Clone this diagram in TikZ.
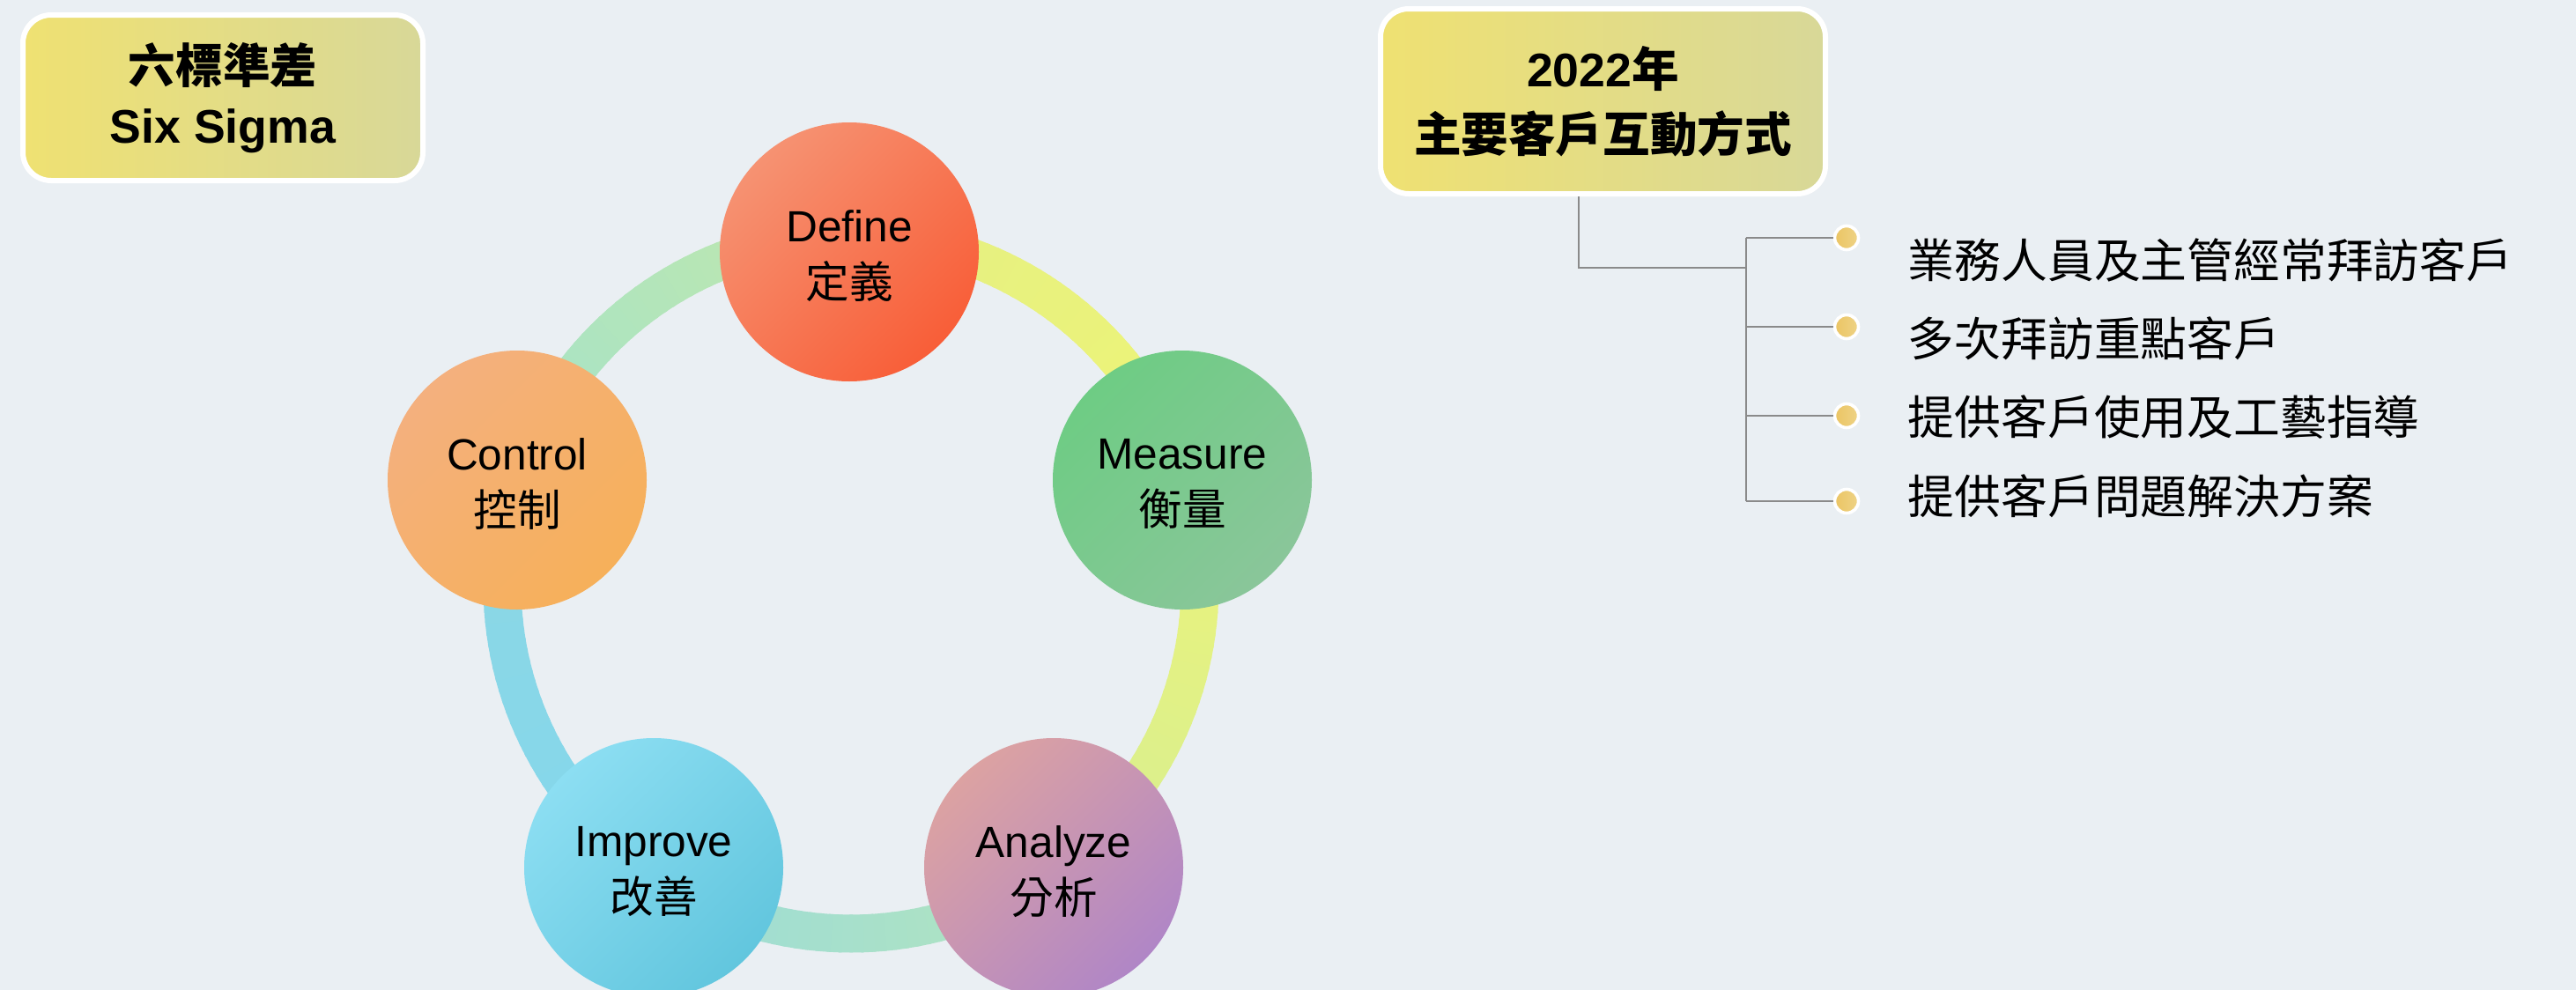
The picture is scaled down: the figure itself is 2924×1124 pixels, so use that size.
\documentclass[tikz,border=0pt]{standalone}
\usepackage{fontspec}
\setmainfont{Liberation Sans}
\newfontfamily\cjk{Noto Sans CJK TC}
\definecolor{bgcol}{HTML}{EAEFF3}
\definecolor{tyel}{HTML}{EFE172}
\definecolor{tgray}{HTML}{D8D898}
\definecolor{linegray}{HTML}{8A8A8A}
\definecolor{bulcol}{HTML}{EAC868}
\definecolor{rA}{HTML}{E4F084}
\definecolor{rB}{HTML}{EEF476}
\definecolor{rC}{HTML}{ECF47A}
\definecolor{rD}{HTML}{D6EE92}
\definecolor{rE}{HTML}{B2E4BE}
\definecolor{rF}{HTML}{9CDCD8}
\definecolor{rG}{HTML}{84D6EC}
\definecolor{rH}{HTML}{8CD8E4}
\definecolor{rI}{HTML}{A4E2CA}
\definecolor{rJ}{HTML}{C0E8AC}
\definecolor{defA}{HTML}{F69272}
\definecolor{defB}{HTML}{F85E38}
\definecolor{meaA}{HTML}{6ECC84}
\definecolor{meaB}{HTML}{8AC69A}
\definecolor{anaA}{HTML}{DCA2A2}
\definecolor{anaB}{HTML}{B086C6}
\definecolor{impA}{HTML}{8CDEF2}
\definecolor{impB}{HTML}{62C6DE}
\definecolor{conA}{HTML}{F4B07E}
\definecolor{conB}{HTML}{F6B05A}
\newcommand\ringseg[4]{%
  \foreach \i in {0,...,39}{%
    \pgfmathsetmacro\sa{#1+(#2-#1)*\i/40}%
    \pgfmathsetmacro\ea{#1+(#2-#1)*(\i+1.3)/40}%
    \pgfmathtruncatemacro\pc{100-100*\i/39}%
    \draw[ringline, draw=#3!\pc!#4] ([shift={(\sa:396)}]rc) arc[start angle=\sa, end angle=\ea, radius=396];
  }}
\begin{document}
\begin{tikzpicture}[x=0.25pt,y=-0.25pt,
  ringline/.style={line width=10.75pt, line cap=butt},
  stage/.style 2 args={circle, minimum size=73.5pt, inner sep=0pt,
    top color=#1, bottom color=#2, shading angle=45},
  stagetext/.style={align=center, inner sep=0pt, font=\fontsize{12.4pt}{16pt}\selectfont},
  titlebox/.style={rectangle, rounded corners=8pt, draw=white, line width=1.5pt,
    left color=tyel, right color=tgray, align=center, inner sep=0pt,
    font=\fontsize{13.4pt}{17pt}\selectfont\bfseries},
  treeline/.style={draw=linegray, line width=0.5pt},
  bulletdot/.style={circle, left color=bulcol!95!orange, right color=bulcol!80!white,
    draw=white, line width=0.9pt, minimum size=6.75pt, inner sep=0pt},
  itemtext/.style={anchor=west, inner sep=0pt, font=\fontsize{13.2pt}{16pt}\selectfont\cjk}
]
\useasboundingbox (0,0) rectangle (2924,1124);
\fill[bgcol] (0,0) rectangle (2924,1124);

% ring
\coordinate (rc) at (966,664);
\ringseg{-90}{-17.6}{rA}{rB}
\ringseg{-17.6}{54.5}{rC}{rD}
\ringseg{54.5}{124.9}{rE}{rF}
\ringseg{124.9}{197.4}{rG}{rH}
\ringseg{197.4}{270}{rI}{rJ}

% stages
\node[stage={defA}{defB}] (def) at (964,286) {};
\node[stage={meaA}{meaB}] (mea) at (1342,545) {};
\node[stage={anaA}{anaB}] (ana) at (1196,985) {};
\node[stage={impA}{impB}] (imp) at (742,985) {};
\node[stage={conA}{conB}] (con) at (587,545) {};
\node[stagetext] (deft) at ([yshift=-1.1pt]def.center) {Define\\{\cjk 定義}};
\node[stagetext] (meat) at ([yshift=-1.1pt]mea.center) {Measure\\{\cjk 衡量}};
\node[stagetext] (anat) at ([yshift=-1.1pt]ana.center) {Analyze\\{\cjk 分析}};
\node[stagetext] (impt) at ([yshift=-1.1pt]imp.center) {Improve\\{\cjk 改善}};
\node[stagetext] (cont) at ([yshift=-1.1pt]con.center) {Control\\{\cjk 控制}};

% title boxes
\node[titlebox, minimum width=113.5pt, minimum height=47pt] (six) at (253,111)
  {{\cjk\bfseries 六標準差}\\Six Sigma};
\node[titlebox, minimum width=126.25pt, minimum height=52.5pt,
  font=\fontsize{13.4pt}{18.5pt}\selectfont\bfseries] (yr) at (1819.5,115)
  {2022{\cjk\bfseries 年}\\{\cjk\bfseries 主要客戶互動方式}};

% tree
\coordinate (j0) at (1792,304);
\coordinate (j1) at (1982,304);
\node[bulletdot] (b1) at (2096,270) {};
\node[bulletdot] (b2) at (2096,371) {};
\node[bulletdot] (b3) at (2096,472) {};
\node[bulletdot] (b4) at (2096,569) {};
\draw[treeline] (yr.south -| j0) -- (j0) -- (j1);
\draw[treeline] (b1.center -| j1) -- (b4.center -| j1);
\foreach \b in {b1,b2,b3,b4}{
  \draw[treeline] (\b.center -| j1) -- (\b.west);
}
\node[itemtext] (t1) at (2165,295) {業務人員及主管經常拜訪客戶};
\node[itemtext] (t2) at (2165,384) {多次拜訪重點客戶};
\node[itemtext] (t3) at (2165,474) {提供客戶使用及工藝指導};
\node[itemtext] (t4) at (2165,563) {提供客戶問題解決方案};
\end{tikzpicture}
\end{document}
